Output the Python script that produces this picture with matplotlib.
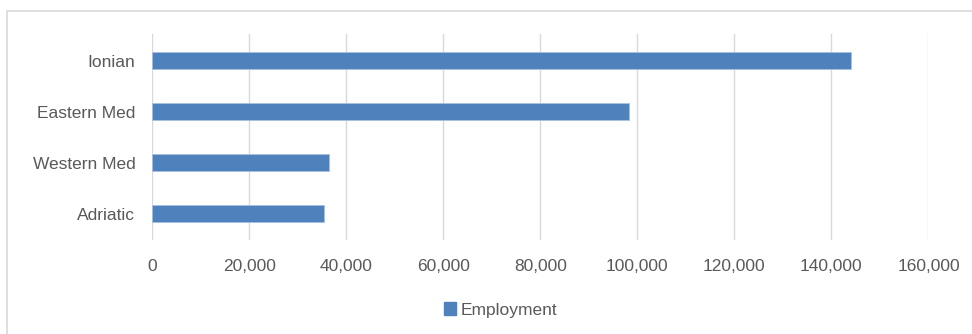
import matplotlib.pyplot as plt
from matplotlib.patches import Rectangle, Patch

regions = ['Adriatic', 'Western Med', 'Eastern Med', 'Ionian']
employment = [35500, 36400, 98300, 144100]
xticks = [0, 20000, 40000, 60000, 80000, 100000, 120000, 140000, 160000]

plt.rcParams['font.family'] = ['Liberation Sans Narrow', 'Liberation Sans', 'DejaVu Sans']
txt = '#595959'
bar_col = '#4f81bd'

fig = plt.figure(figsize=(9.72, 3.34), dpi=100)
ax = fig.add_axes([0.1564, 0.2814, 0.7988, 0.6166])

ax.barh(range(len(regions)), employment, height=0.35, color=bar_col,
        edgecolor='#a9c1e0', linewidth=0.6, zorder=3)
ax.set_yticks(range(len(regions)))
ax.set_yticklabels(regions)
ax.set_ylim(-0.52, 3.52)
ax.set_xlim(0, 160000)
ax.set_xticks(xticks)
ax.set_xticklabels([f'{v:,}' for v in xticks])
ax.grid(axis='x', color='#d9d9d9', linewidth=1)
ax.set_axisbelow(True)
for s in ax.spines.values():
    s.set_visible(False)
ax.tick_params(length=0, labelsize=12.5, colors=txt)
ax.tick_params(axis='y', pad=12)
ax.tick_params(axis='x', pad=14)

# chart area border
fig.add_artist(Rectangle((7 / 972, -0.1), 1.2, 1.1 - 10.5 / 334,
                         transform=fig.transFigure, fill=False,
                         edgecolor='#d9d9d9', linewidth=1.2))

fig.legend(handles=[Patch(color=bar_col, label='Employment')],
           loc='center', bbox_to_anchor=(0.515, 0.072), frameon=False,
           fontsize=12.5, labelcolor=txt, handlelength=0.7, handleheight=0.7,
           handletextpad=0.3)

fig.savefig('out.png', dpi=100)
